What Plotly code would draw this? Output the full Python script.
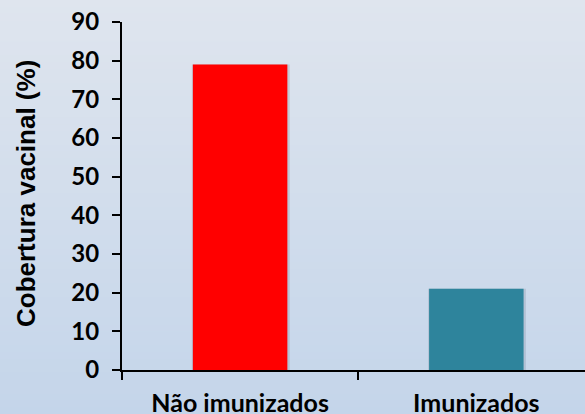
import plotly.graph_objects as go

categories = ["Não imunizados", "Imunizados"]
values = [79, 21]
bar_colors = ["#ff0000", "#2e849c"]
y_ticks = [0, 10, 20, 30, 40, 50, 60, 70, 80, 90]
y_title = "Cobertura vacinal (%)"

W, H = 585, 414
ml, mr, mt, mb = 122, 0, 22, 44
pw, ph = W - ml - mr, H - mt - mb

fig = go.Figure()
# soft shadow behind bars
fig.add_trace(go.Bar(x=categories, y=values, marker=dict(color="rgba(60,70,90,0.15)", line=dict(width=0)),
                     width=0.414, offset=-0.204, showlegend=False, hoverinfo="skip"))
fig.add_trace(go.Bar(x=categories, y=values, marker=dict(color=bar_colors, line=dict(width=0)),
                     width=0.4, offset=-0.2, showlegend=False))

# gradient background via horizontal bands (paper coordinates)
top = (223, 229, 238)
bot = (196, 213, 234)
n = 60
shapes = []
x0p = -ml / pw
x1p = 1 + mr / pw
for i in range(n):
    py0 = H * i / n
    py1 = H * (i + 1) / n + 0.5
    t = (i + 0.5) / n
    c = tuple(round(top[k] + (bot[k] - top[k]) * t) for k in range(3))
    shapes.append(dict(type="rect", xref="paper", yref="paper", layer="below",
                       x0=x0p, x1=x1p,
                       y0=(H - mb - py1) / ph, y1=(H - mb - py0) / ph,
                       fillcolor="rgb(%d,%d,%d)" % c, line=dict(width=0)))

fig.update_layout(
    width=W, height=H,
    margin=dict(l=ml, r=mr, t=mt, b=mb, pad=0, autoexpand=False),
    paper_bgcolor="rgb(210,221,236)", plot_bgcolor="rgba(0,0,0,0)",
    shapes=shapes,
    barmode="overlay",
    annotations=[dict(text="<b>" + y_title + "</b>", xref="paper", yref="paper",
                      x=(26 - ml) / pw, y=(H - mb - 194) / ph, textangle=-90,
                      showarrow=False, xanchor="center", yanchor="middle",
                      font=dict(family="Arial, Liberation Sans", size=26, color="black"))],
)
fig.update_xaxes(
    range=[-0.5, 1.46], tickson="boundaries", ticks="outside", ticklen=8, tickwidth=2,
    tickcolor="black", showline=True, linecolor="black", linewidth=2, showgrid=False,
    tickfont=dict(family="Lato", size=25, color="black", weight="bold"),
    ticklabelstandoff=10, automargin=False,
)
fig.update_yaxes(
    range=[0, 90], tickvals=y_ticks, ticks="outside", ticklen=8, tickwidth=2,
    tickcolor="black", showline=True, linecolor="black", linewidth=2, showgrid=False,
    zeroline=False, automargin=False,
    tickfont=dict(family="Lato", size=24, color="black", weight="bold"),
    ticklabelstandoff=8,
)
fig.write_html("out.html", config={"displayModeBar": False},
               post_script="document.body.style.margin='0';document.body.style.overflow='hidden';")
